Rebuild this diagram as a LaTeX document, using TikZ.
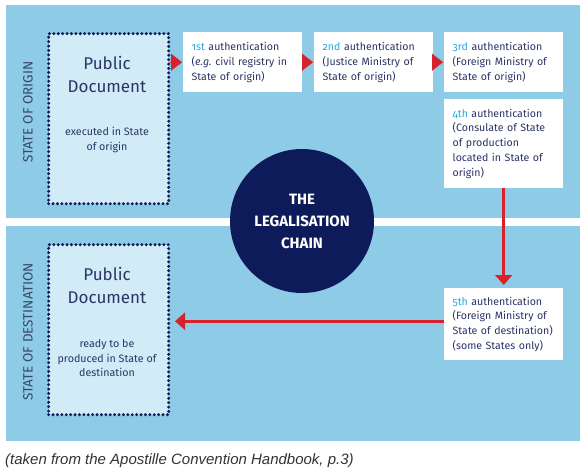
\documentclass[tikz,border=0pt]{standalone}
\usepackage{fontspec}
\setmainfont{Fira Sans}
\newfontfamily\ordfont[Numbers=OldStyle]{Fira Sans}
\newfontfamily\capfont{Liberation Sans}
\usetikzlibrary{arrows.meta}
\definecolor{panel}{HTML}{8DCBE6}
\definecolor{docfill}{HTML}{D2ECF7}
\definecolor{navy}{HTML}{0E1B5B}
\definecolor{arrowred}{HTML}{D6232B}
\definecolor{ordcyan}{HTML}{27AAE1}
\definecolor{txt}{HTML}{2B3466}
\definecolor{sidetxt}{HTML}{3A4868}
\definecolor{captxt}{HTML}{333333}
\newcommand{\ord}[1]{\textcolor{ordcyan}{\ordfont #1}}
\hyphenpenalty=10000
\begin{document}
\begin{tikzpicture}[x=1pt,y=-1pt,
  auth/.style={fill=white, text=txt, text width=102pt, inner xsep=8.5pt, inner ysep=0pt,
    align=left, anchor=north west, font=\fontsize{10.6}{14.8}\selectfont},
  pdbox/.style={fill=docfill, draw=navy, line width=3.3pt, dash pattern=on 0pt off 4.4pt,
    line cap=round, minimum width=120pt, minimum height=170pt, inner sep=0pt, anchor=north west},
  pdtitle/.style={text=txt, align=center, font=\fontsize{17}{23}\selectfont},
  pdsub/.style={text=txt, align=center, font=\fontsize{10.7}{14.5}\selectfont},
  sidelabel/.style={text=sidetxt, rotate=90, font=\fontsize{13.5}{15}\selectfont},
  tri/.style={draw=arrowred, fill=arrowred, line width=0.1pt, -{Triangle[length=11pt,width=17pt]}, shorten >=1pt},
  bigarrow/.style={draw=arrowred, line width=3pt, -{Triangle[length=10pt,width=17pt]}}
]
\useasboundingbox (0,0) rectangle (585,471);
\fill[white] (0,0) rectangle (585,471);
\fill[panel] (6,5) rectangle (580,218);
\fill[panel] (6,226) rectangle (580,441);

% side labels
\node[sidelabel] (lorig) at (28,112) {STATE OF ORIGIN};
\node[sidelabel] (ldest) at (28,332) {STATE OF DESTINATION};

% public document boxes
\node[pdbox] (pd1) at (47,32) {};
\node[pdtitle] (pd1t) at (107,74.5) {Public\\Document};
\node[pdsub] (pd1s) at (107,140) {executed in State\\of origin};

\node[pdbox] (pd2) at (47,243) {};
\node[pdtitle] (pd2t) at (107,285.5) {Public\\Document};
\node[pdsub] (pd2s) at (107,358.5) {ready to be\\produced in State of\\destination};

% authentication boxes
\node[auth, minimum height=60pt] (a1) at (183,32) {\ord{1st} authentication\\(\textit{e.g.}\ civil registry in\\State of origin)};
\node[auth, minimum height=60pt] (a2) at (314,32) {\ord{2nd} authentication\\(Justice Ministry of\\State of origin)};
\node[auth, minimum height=60pt] (a3) at (444,32) {\ord{3rd} authentication\\(Foreign Ministry of\\State of origin)};
\node[auth, minimum height=89pt] (a4) at (444,99) {\ord{4th} authentication\\(Consulate of State\\of production\\located in State of\\origin)};
\node[auth, minimum height=72pt] (a5) at (444,288) {\ord{5th} authentication\\(Foreign Ministry of\\State of destination)\\(some States only)};

% central circle
\node[circle, fill=navy, minimum size=144pt, inner sep=0pt, text=white, align=center,
  font=\bfseries\fontsize{15}{22}\selectfont] (chain) at (302,221) {THE\\LEGALISATION\\CHAIN};

% connectors
\draw[tri] (pd1.east |- a1.west) -- (a1.west);
\draw[tri] (a1.east) -- (a2.west);
\draw[tri] (a2.east) -- (a3.west);
\draw[bigarrow, shorten >=3pt] (a4.south) -- (a5.north);
\draw[bigarrow, shorten >=4.7pt] ([yshift=3pt]a5.west) -- ([yshift=3pt]a5.west -| pd2.east);

% caption
\node[anchor=base west, inner sep=0pt, text=captxt, font=\capfont\itshape\fontsize{15}{17}\selectfont] (cap) at (5,464) {(taken from the Apostille Convention Handbook, p.3)};
\end{tikzpicture}
\end{document}
